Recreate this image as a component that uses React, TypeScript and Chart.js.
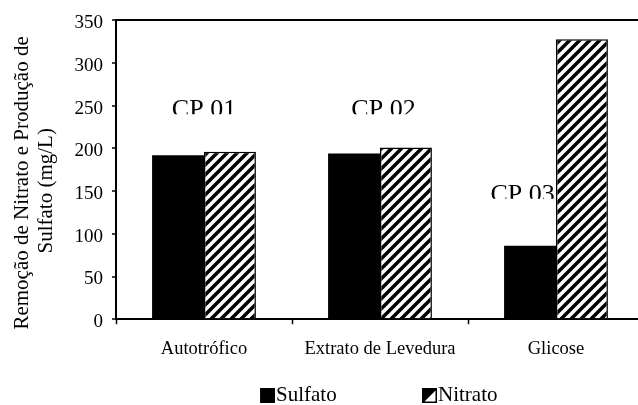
import React, { useEffect, useRef } from 'react';
import { Chart, registerables } from 'chart.js';

Chart.register(...registerables);

const categories = ['Autotrófico', 'Extrato de Levedura', 'Glicose'];
const seriesLabels = ['Sulfato', 'Nitrato'];
const sulfato = [192, 194, 86];
const nitrato = [196, 201, 328];
const yMin = 0;
const yMax = 350;
const yStep = 50;
const yTitle = ['Remoção de Nitrato e Produção de     ', 'Sulfato (mg/L)        '];
const cpLabels = ['CP 01', 'CP 02', 'CP 03'];
const cpCategoryPos = [0, 1.02, 1.81];
const cpValues = [257, 257, 158];

const FONT = "'Liberation Serif', 'Times New Roman', serif";

function makeHatch(target: CanvasRenderingContext2D) {
  const c = document.createElement('canvas');
  c.width = 10;
  c.height = 10;
  const g = c.getContext('2d')!;
  g.fillStyle = '#fff';
  g.fillRect(0, 0, 10, 10);
  g.strokeStyle = '#000';
  g.lineWidth = 3.5;
  g.beginPath();
  g.moveTo(-2, 12);
  g.lineTo(12, -2);
  g.moveTo(-2, 2);
  g.lineTo(2, -2);
  g.moveTo(8, 12);
  g.lineTo(12, 8);
  g.stroke();
  return target.createPattern(c, 'repeat')!;
}

function makeIcon(kind: 'solid' | 'hatch') {
  const c = document.createElement('canvas');
  c.width = 99;
  c.height = 15;
  const g = c.getContext('2d')!;
  const x0 = 84;
  g.fillStyle = '#000';
  g.fillRect(x0, 0, 15, 15);
  if (kind === 'hatch') {
    g.fillStyle = '#fff';
    g.beginPath();
    g.moveTo(x0 + 2.5, 13.5);
    g.lineTo(x0 + 13.5, 2.5);
    g.lineTo(x0 + 13.5, 13.5);
    g.closePath();
    g.fill();
  }
  return c;
}

const cpPlugin = {
  id: 'cpLabels',
  beforeDatasetsDraw(chart: any) {
    const { ctx } = chart;
    const x = chart.scales.x;
    const y = chart.scales.y;
    const size = 26;
    ctx.save();
    ctx.font = `${size}px ${FONT}`;
    ctx.fillStyle = '#000';
    ctx.textAlign = 'center';
    ctx.textBaseline = 'alphabetic';
    cpLabels.forEach((t, i) => {
      const px = x.getPixelForValue(cpCategoryPos[i]);
      const py = y.getPixelForValue(cpValues[i]);
      ctx.save();
      ctx.beginPath();
      ctx.rect(px - 70, py - 4, 140, 4 + 14.5);
      ctx.clip();
      ctx.fillText(t, px, py + size * 0.662);
      ctx.restore();
    });
    ctx.restore();
  },
};

export default function App() {
  const ref = useRef<HTMLCanvasElement>(null);

  useEffect(() => {
    const canvas = ref.current!;
    const ctx = canvas.getContext('2d')!;
    const hatch = makeHatch(ctx);
    const icons = [makeIcon('solid'), makeIcon('hatch')];

    const chart = new Chart(canvas, {
      type: 'bar',
      data: {
        labels: categories,
        datasets: [
          {
            label: seriesLabels[0],
            data: sulfato,
            backgroundColor: '#000',
            borderWidth: 0,
            categoryPercentage: 0.59,
            barPercentage: 1,
            xAxisID: 'x',
            yAxisID: 'y',
          },
          {
            label: seriesLabels[1],
            data: nitrato,
            backgroundColor: hatch as any,
            borderColor: '#000',
            borderWidth: 1.5,
            categoryPercentage: 0.59,
            barPercentage: 1,
            xAxisID: 'x',
            yAxisID: 'y',
          },
        ],
      },
      options: {
        animation: false,
        responsive: false,
        maintainAspectRatio: false,
        layout: { padding: { top: 16.5, left: 0, right: 0, bottom: 0 } },
        scales: {
          x: {
            offset: true,
            grid: {
              display: true,
              offset: true,
              drawOnChartArea: false,
              drawTicks: true,
              tickLength: 5,
              tickColor: '#000',
              tickWidth: 1.5,
            },
            border: { display: true, color: '#000', width: 2 },
            ticks: {
              color: '#000',
              font: { family: FONT, size: 18.5 },
              padding: 14,
              maxRotation: 0,
              autoSkip: false,
            },
            afterFit: (s: any) => {
              s.height = 55;
            },
          },
          y: {
            min: yMin,
            max: yMax,
            ticks: {
              stepSize: yStep,
              color: '#000',
              font: { family: FONT, size: 19 },
              padding: 9,
              labelOffset: 3,
            },
            grid: {
              color: (c: any) => (c.tick && c.tick.value === yMax ? '#000' : 'rgba(0,0,0,0)'),
              lineWidth: 2,
              tickColor: '#000',
              tickLength: 4,
              tickWidth: 1.5,
            },
            border: { display: true, color: '#000', width: 2 },
            title: {
              display: true,
              text: yTitle,
              color: '#000',
              font: { family: FONT, size: 21, lineHeight: 1.15 },
              padding: { top: 10, bottom: 0 },
            },
            afterFit: (s: any) => {
              s.width = 116;
            },
          },
          yR: {
            type: 'linear',
            position: 'right',
            display: true,
            grid: { display: false },
            border: { display: false },
            ticks: { display: false },
            afterFit: (s: any) => {
              s.width = 39;
            },
          },
        },
        plugins: {
          legend: {
            position: 'bottom',
            labels: {
              usePointStyle: true,
              pointStyleWidth: 80,
              padding: 10.8,
              color: '#000',
              font: { family: FONT, size: 21 },
              generateLabels: () =>
                seriesLabels.map((t, i) => ({
                  text: t,
                  pointStyle: icons[i] as any,
                  fillStyle: '#000',
                  strokeStyle: '#000',
                  lineWidth: 0,
                  hidden: false,
                  datasetIndex: i,
                  fontColor: '#000',
                })),
            },
          },
          tooltip: { enabled: false },
        },
      },
      plugins: [cpPlugin],
    } as any);

    return () => chart.destroy();
  }, []);

  return (
    <div
      style={{
        position: 'fixed',
        left: 0,
        top: 0,
        width: 638,
        height: 405,
        overflow: 'hidden',
        background: '#fff',
      }}
    >
      <canvas ref={ref} width={683} height={416} style={{ display: 'block', width: 683, height: 416 }} />
    </div>
  );
}
